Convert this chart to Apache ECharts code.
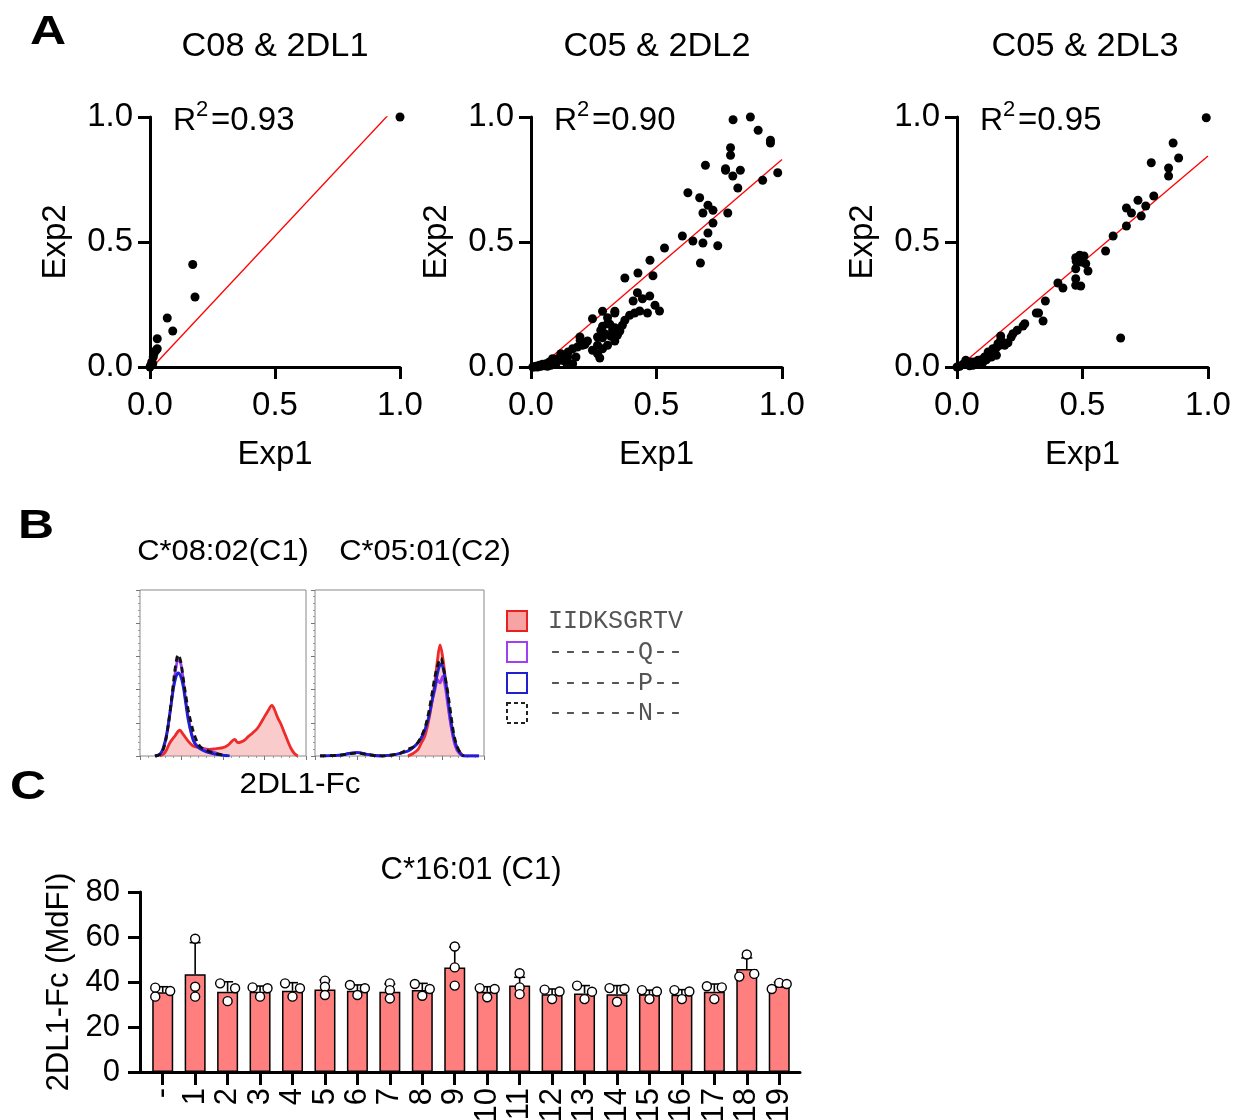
<!DOCTYPE html>
<html>
<head>
<meta charset="utf-8">
<script src="https://cdn.jsdelivr.net/npm/echarts@6/dist/echarts.min.js"></script>
<style>
  html, body { margin: 0; padding: 0; background: #fff; }
  #main { width: 1238px; height: 1120px; }
</style>
</head>
<body>
<div id="main"></div>
<script>
// ---- panel A : Exp1 vs Exp2 scatter ----
var a1Points = [[1.0, 1.0], [0.171, 0.41], [0.18, 0.28], [0.069, 0.196], [0.091, 0.144],
  [0.029, 0.113], [0.029, 0.073], [0.024, 0.067], [0.016, 0.053], [0.013, 0.04],
  [0.007, 0.02], [0.003, 0.007], [0.011, 0.013], [0.0, 0.0]];
var a1Fit = [[0.01, 0.0], [0.95, 1.005]];

var a2Points = [[0.805, 0.989], [0.874, 1.0], [1.003, 1.0], [0.905, 0.947], [0.954, 0.907],
  [0.954, 0.896], [0.795, 0.877], [0.795, 0.847], [0.695, 0.807], [0.775, 0.793],
  [0.775, 0.787], [0.834, 0.787], [0.804, 0.764], [0.983, 0.777], [0.923, 0.747],
  [0.824, 0.716], [0.625, 0.697], [0.672, 0.677], [0.705, 0.647], [0.725, 0.627],
  [0.685, 0.616], [0.784, 0.616], [0.725, 0.576], [0.705, 0.536], [0.603, 0.524],
  [0.645, 0.504], [0.685, 0.496], [0.744, 0.485], [0.675, 0.416], [0.532, 0.476],
  [0.474, 0.427], [0.486, 0.365], [0.426, 0.376], [0.374, 0.356], [0.424, 0.297],
  [0.444, 0.273], [0.407, 0.264], [0.473, 0.284], [0.494, 0.247], [0.512, 0.224],
  [0.464, 0.216], [0.433, 0.224], [0.413, 0.216], [0.393, 0.207], [0.374, 0.187],
  [0.334, 0.223], [0.334, 0.216], [0.305, 0.197], [0.285, 0.223], [0.245, 0.193],
  [0.305, 0.173], [0.285, 0.163], [0.364, 0.167], [0.334, 0.157], [0.354, 0.144],
  [0.344, 0.127], [0.318, 0.123], [0.334, 0.104], [0.294, 0.133], [0.285, 0.117],
  [0.265, 0.12], [0.305, 0.087], [0.285, 0.073], [0.265, 0.087], [0.265, 0.053],
  [0.274, 0.036], [0.245, 0.067], [0.225, 0.104], [0.205, 0.087], [0.195, 0.12],
  [0.185, 0.08], [0.166, 0.073], [0.148, 0.06], [0.146, 0.04], [0.166, 0.013],
  [0.132, 0.04], [0.119, 0.053], [0.106, 0.033], [0.086, 0.033], [0.073, 0.02],
  [0.06, 0.013], [0.046, 0.011], [0.033, 0.007], [0.02, 0.003], [0.007, 0.0],
  [0.122, 0.027], [0.099, 0.013], [0.079, 0.007], [0.139, 0.02], [0.056, 0.005],
  [0.04, 0.003], [0.026, 0.0], [0.013, 0.0], [0.066, 0.003], [0.179, 0.04],
  [0.196, 0.107], [0.278, 0.147], [0.325, 0.147], [0.314, 0.171], [0.215, 0.09]];
var a2Fit = [[0.04, 0.004], [1.0, 0.83]];

var a3Points = [[0.993, 0.997], [0.861, 0.896], [0.883, 0.836], [0.774, 0.817], [1.003, 0.796],
  [0.843, 0.796], [0.843, 0.764], [0.784, 0.684], [0.721, 0.667], [0.752, 0.644],
  [0.675, 0.636], [0.695, 0.616], [0.734, 0.604], [0.675, 0.564], [0.622, 0.524],
  [0.592, 0.464], [0.473, 0.437], [0.489, 0.447], [0.506, 0.444], [0.475, 0.423],
  [0.513, 0.413], [0.473, 0.393], [0.522, 0.384], [0.495, 0.42], [0.473, 0.353],
  [0.473, 0.327], [0.493, 0.324], [0.402, 0.336], [0.422, 0.316], [0.352, 0.264],
  [0.316, 0.216], [0.325, 0.216], [0.343, 0.184], [0.27, 0.173], [0.263, 0.164],
  [0.24, 0.147], [0.223, 0.133], [0.216, 0.12], [0.203, 0.097], [0.174, 0.124],
  [0.174, 0.107], [0.17, 0.087], [0.157, 0.077], [0.143, 0.073], [0.157, 0.047],
  [0.137, 0.04], [0.124, 0.06], [0.11, 0.04], [0.097, 0.029], [0.084, 0.027],
  [0.07, 0.02], [0.057, 0.02], [0.035, 0.027], [0.044, 0.013], [0.024, 0.011],
  [0.011, 0.003], [0.0, 0.0], [0.652, 0.116], [0.15, 0.06], [0.117, 0.029],
  [0.104, 0.02], [0.077, 0.011], [0.064, 0.007], [0.05, 0.005], [0.163, 0.093],
  [0.19, 0.087], [0.18, 0.1]];
var a3Fit = [[0.02, 0.011], [1.0, 0.844]];

var aTitles = ['C08 & 2DL1', 'C05 & 2DL2', 'C05 & 2DL3'];
var aR2 = ['=0.93', '=0.90', '=0.95'];

// ---- panel B : histograms (x: fluorescence, y: % of max) ----
var b1Red = [[12, 0], [15, 2], [18, 8], [21, 12], [24, 15.5], [26, 13], [29, 9], [32, 6], [36, 5],
  [42, 4], [46, 4.5], [50, 5], [53, 6.5], [55, 8.5], [57, 10], [59, 8], [61, 8.5], [63, 9.5],
  [65, 11.5], [68, 14], [71, 17], [74, 22], [77, 27], [79.5, 30.5], [81, 28], [83, 23],
  [85, 19], [87, 14], [89, 9], [91, 4.5], [93, 1.5], [95, 0]];
var b1Purple = [[9, 0], [12, 1], [14, 4], [16, 12], [18, 25], [20, 40], [21.5, 52], [23, 58],
  [24.5, 56], [26, 46], [27.5, 34], [29, 24], [31, 14], [33, 8], [36, 5], [40, 3.5], [44, 2.5],
  [48, 1], [52, 0]];
var b1Blue = [[9, 0], [12, 1], [14, 5], [16, 13], [18, 26], [20, 40], [21.5, 47], [23, 50],
  [24.5, 48], [26, 42], [27.5, 32], [29, 22], [31, 13], [33, 7.5], [36, 4.5], [40, 2.5],
  [45, 1.2], [50, 0.5], [54, 0]];
var b1Black = [[9, 0], [12, 1], [14, 4], [16, 12], [18, 26], [20, 43], [21.5, 55], [23, 61],
  [24.5, 57], [26, 47], [27.5, 37], [29, 28], [31, 19], [33, 12], [36, 6], [40, 3.5], [44, 2],
  [48, 1], [52, 0]];

var b2Red = [[55, 0], [58, 1.5], [61, 4], [63, 8], [65, 12], [67, 20], [69, 31], [71, 45],
  [72.5, 58], [74, 67], [75.5, 60], [77, 48], [78.5, 34], [80, 22], [82, 11], [84, 5],
  [86, 2], [88, 0]];
var b2Purple = [[3, 0], [15, 0.5], [20, 1.5], [25, 2.2], [30, 1.2], [35, 0.3], [40, 0], [45, 0.5],
  [50, 1.5], [55, 3], [58, 5], [61, 8], [64, 13], [67, 22], [69, 32], [71, 40], [72.5, 46],
  [74, 44], [75.5, 48], [77, 42], [79, 28], [81, 15], [83, 6], [85, 2], [88, 0], [97, 0]];
var b2Blue = [[3, 0], [15, 0.5], [20, 1.5], [25, 2], [30, 1.2], [35, 0.3], [40, 0], [45, 0.5],
  [50, 1.5], [55, 3], [58, 5], [61, 8], [64, 13], [67, 22], [69, 32], [71, 42], [73, 52],
  [74.5, 55.5], [76, 52], [78, 40], [80, 24], [82, 12], [84, 5], [86, 1.5], [88, 0], [97, 0]];
var b2Black = [[3, 0], [15, 0.5], [20, 1.3], [25, 1.8], [30, 1], [35, 0.3], [40, 0], [45, 0.5],
  [50, 1.5], [53, 3], [56, 4.5], [59, 6], [62, 10], [65, 17], [67, 25], [69, 36], [71, 48],
  [73, 56], [74.5, 59], [76, 53], [78, 42], [80, 28], [82, 14], [84, 6], [86, 2], [88, 0]];

var bTitles = ['C*08:02(C1)', 'C*05:01(C2)'];
var bLegend = ['IIDKSGRTV', '------Q--', '------P--', '------N--'];

// ---- panel C : bars ----
var cCats = ['-', '1', '2', '3', '4', '5', '6', '7', '8', '9', '10', '11', '12', '13', '14', '15', '16', '17', '18', '19'];
var cMean = [35.4, 43.4, 35.7, 35.7, 36.1, 36.7, 36.1, 35.7, 36.4, 46.5, 35.7, 38.4, 34.6, 34.9, 34.6, 34.6, 34.3, 35.7, 45.8, 38.1];
var cSdTop = [37.9, 57.5, 40.1, 38.2, 39.7, 40.9, 38.7, 39.1, 39.4, 55.5, 37.9, 42.1, 36.9, 38.4, 38.4, 36.4, 36.6, 39.1, 50.7, 39.9];
var cReps = [[37.5, 33.5, 36], [59.2, 37.9, 33.5], [39.4, 31.5, 37.2], [37.6, 33.5, 37.2], [39.4, 33.5, 37.2],
  [40.6, 37.9, 34.2], [38.7, 34.2, 37.2], [39.4, 36.4, 32.7], [39.1, 33.9, 36.9], [55.8, 46.5, 38.4],
  [37.3, 33.2, 36.9], [43.9, 37.6, 34.6], [36.6, 32.4, 35.8], [38.4, 32.4, 35.7], [37.3, 31.2, 36.9],
  [36.4, 32.4, 35.8], [36.4, 32.4, 35.8], [38.1, 32.4, 37.6], [42.4, 52.2, 43.6], [36.9, 39.6, 39.1]];
// dot placement inside each bar: -1 left, 0 middle, 1 right
var cJitter = [[-1, -1, 1], [0, 0, 0], [-1, 0, 1], [-1, 0, 1], [-1, 0, 1], [0, 0, 0], [-1, 0, 1], [0, 0, 0],
  [-1, 0, 1], [0, 0, 0], [-1, 0, 1], [0, 0, 0], [-1, 0, 1], [-1, 0, 1], [-1, 0, 1], [-1, 0, 1],
  [-1, 0, 1], [-1, 0, 1], [-1, 0, 1], [-1, 0, 1]];

var FF = '"Liberation Sans", Arial, sans-serif';
var chart = echarts.init(document.getElementById('main'), null, { renderer: 'canvas' });

function aXAxis(gi) {
  return {
    type: 'value', gridIndex: gi, min: 0, max: 1, interval: 0.5,
    axisLine: { lineStyle: { color: '#000', width: 3 } },
    axisTick: { length: 12, lineStyle: { color: '#000', width: 3 } },
    axisLabel: { color: '#000', fontSize: 33, fontFamily: FF, margin: 22, formatter: function (v) { return v.toFixed(1); } },
    splitLine: { show: false },
    name: 'Exp1', nameLocation: 'middle', nameGap: 71,
    nameTextStyle: { color: '#000', fontSize: 33, fontFamily: FF }
  };
}
function aYAxis(gi) {
  return {
    type: 'value', gridIndex: gi, min: 0, max: 1, interval: 0.5,
    axisLine: { lineStyle: { color: '#000', width: 3 } },
    axisTick: { length: 12, lineStyle: { color: '#000', width: 3 } },
    axisLabel: { color: '#000', fontSize: 33, fontFamily: FF, margin: 17, formatter: function (v) { return v.toFixed(1); } },
    splitLine: { show: false },
    name: 'Exp2', nameLocation: 'middle', nameGap: 78,
    nameTextStyle: { color: '#000', fontSize: 33, fontFamily: FF }
  };
}
function bXAxis(gi) {
  return {
    type: 'value', gridIndex: gi, min: 0, max: 100, interval: 25,
    axisLine: { show: false },
    axisTick: { length: 4, lineStyle: { color: '#777', width: 1 } },
    minorTick: { show: true, splitNumber: 5, length: 2, lineStyle: { color: '#999' } },
    axisLabel: { show: false }, splitLine: { show: false }
  };
}
function bYAxis(gi) {
  return {
    type: 'value', gridIndex: gi, min: 0, max: 100, interval: 20,
    axisLine: { show: false },
    axisTick: { length: 4, lineStyle: { color: '#777', width: 1 } },
    minorTick: { show: true, splitNumber: 5, length: 2, lineStyle: { color: '#999' } },
    axisLabel: { show: false }, splitLine: { show: false }
  };
}
function scatterA(gi, pts) {
  return { type: 'scatter', xAxisIndex: gi, yAxisIndex: gi, data: pts, symbolSize: 9,
    itemStyle: { color: '#000', opacity: 1 }, z: 3 };
}
function fitA(gi, pts) {
  return { type: 'line', xAxisIndex: gi, yAxisIndex: gi, data: pts, showSymbol: false,
    lineStyle: { color: '#ff0000', width: 1.3 }, z: 2 };
}
function histLine(gi, pts, color, dashed, area) {
  var s = { type: 'line', xAxisIndex: gi, yAxisIndex: gi, data: pts, showSymbol: false, smooth: 0.35,
    lineStyle: { color: color, width: 2.8, type: dashed ? [6, 4] : 'solid' } };
  if (area) s.areaStyle = { color: 'rgba(242,120,120,0.55)', origin: 'start' };
  return s;
}

var barData = cMean.map(function (v, i) { return [i, v]; });
var errData = cMean.map(function (v, i) { return [i, v, cSdTop[i]]; });
var dotData = [];
cReps.forEach(function (reps, i) {
  reps.forEach(function (v, k) { dotData.push([i + cJitter[i][k] * 0.23, v]); });
});

var graphics = [];
function txt(x, y, text, font, align, color, sx) {
  graphics.push({ type: 'text', x: x, y: y, scaleX: sx || 1, silent: true,
    style: { text: text, font: font, fill: color || '#000', textAlign: align || 'center', textVerticalAlign: 'middle' } });
}
txt(48, 33, 'A', 'bold 40px ' + FF, 'center', '#000', 1.25);
txt(36, 527, 'B', 'bold 40px ' + FF, 'center', '#000', 1.25);
txt(28, 788, 'C', 'bold 40px ' + FF, 'center', '#000', 1.25);
var aAxisX = [150, 531, 957];
var aCenters = [275, 657, 1085];
aTitles.forEach(function (t, i) {
  txt(aCenters[i], 47, t, '33px ' + FF, 'center', '#000', 1.04);
  txt(aAxisX[i] + 23, 121, 'R', '32px ' + FF, 'left');
  txt(aAxisX[i] + 46, 110, '2', '22px ' + FF, 'left');
  txt(aAxisX[i] + 61, 121, aR2[i], '33px ' + FF, 'left');
});
txt(223, 552, bTitles[0], '30px ' + FF, 'center', '#000', 1.03);
txt(425, 552, bTitles[1], '30px ' + FF, 'center', '#000', 1.03);
txt(300, 785, '2DL1-Fc', '30px ' + FF, 'center', '#000', 1.05);
txt(471, 870, 'C*16:01 (C1)', '31px ' + FF);

var legFill = ['#f7a3a3', '#fff', '#fff', '#fff'];
var legStroke = ['#e82020', '#a040f0', '#2020d0', '#222'];
var legY = [621, 652, 683, 713];
bLegend.forEach(function (t, i) {
  graphics.push({ type: 'rect', silent: true, shape: { x: 507, y: legY[i] - 10, width: 20, height: 20 },
    style: { fill: legFill[i], stroke: legStroke[i], lineWidth: 2, lineDash: i === 3 ? [4, 3] : null } });
  txt(548, legY[i], t, '25px "Liberation Mono", "DejaVu Sans Mono", monospace', 'left', '#555');
});

var option = {
  animation: false,
  backgroundColor: '#fff',
  textStyle: { fontFamily: FF },
  grid: [
    { left: 150, top: 117, width: 250, height: 250, outerBoundsMode: 'none' },
    { left: 531, top: 117, width: 251, height: 250, outerBoundsMode: 'none' },
    { left: 957, top: 117, width: 251, height: 250, outerBoundsMode: 'none' },
    { left: 140, top: 590, width: 166, height: 166, show: true, borderColor: '#888', borderWidth: 1, outerBoundsMode: 'none' },
    { left: 315, top: 590, width: 169, height: 166, show: true, borderColor: '#888', borderWidth: 1, outerBoundsMode: 'none' },
    { left: 140, top: 892, width: 660, height: 180, outerBoundsMode: 'none' }
  ],
  xAxis: [aXAxis(0), aXAxis(1), aXAxis(2), bXAxis(3), bXAxis(4), {
    type: 'value', gridIndex: 5, min: -0.7, max: 19.64,
    axisLine: { onZero: false, lineStyle: { color: '#000', width: 3 } },
    axisTick: { length: 13, lineStyle: { color: '#000', width: 3 }, customValues: cCats.map(function (c, i) { return i; }) },
    axisLabel: { color: '#000', fontSize: 31, fontFamily: FF, rotate: 90, margin: 16,
      customValues: cCats.map(function (c, i) { return i; }),
      formatter: function (v) { return cCats[Math.round(v)]; } },
    splitLine: { show: false }
  }],
  yAxis: [aYAxis(0), aYAxis(1), aYAxis(2), bYAxis(3), bYAxis(4), {
    type: 'value', gridIndex: 5, min: 0, max: 80, interval: 20,
    axisLine: { show: true, onZero: false, lineStyle: { color: '#000', width: 3 } },
    axisTick: { show: true, length: 12, lineStyle: { color: '#000', width: 3 } },
    axisLabel: { color: '#000', fontSize: 31, fontFamily: FF, margin: 20 },
    splitLine: { show: false },
    name: '2DL1-Fc (MdFI)', nameLocation: 'middle', nameGap: 62,
    nameTextStyle: { color: '#000', fontSize: 31, fontFamily: FF }
  }],
  series: [
    fitA(0, a1Fit), scatterA(0, a1Points),
    fitA(1, a2Fit), scatterA(1, a2Points),
    fitA(2, a3Fit), scatterA(2, a3Points),
    histLine(3, b1Red, '#ee2a2a', false, true),
    histLine(3, b1Purple, '#9a3cf0', false, false),
    histLine(3, b1Blue, '#1f1fd6', false, false),
    histLine(3, b1Black, '#111', true, false),
    histLine(4, b2Red, '#ee2a2a', false, true),
    histLine(4, b2Purple, '#9a3cf0', false, false),
    histLine(4, b2Blue, '#1f1fd6', false, false),
    histLine(4, b2Black, '#111', true, false),
    { type: 'bar', xAxisIndex: 5, yAxisIndex: 5, data: barData, barWidth: 21,
      itemStyle: { color: '#ff7f7f', borderColor: '#000', borderWidth: 1.5 } },
    { type: 'custom', xAxisIndex: 5, yAxisIndex: 5, data: errData, encode: { x: 0, y: [1, 2] }, z: 3,
      renderItem: function (params, api) {
        var p0 = api.coord([api.value(0), api.value(1)]);
        var p1 = api.coord([api.value(0), api.value(2)]);
        return { type: 'group', children: [
          { type: 'line', shape: { x1: p0[0], y1: p0[1], x2: p1[0], y2: p1[1] }, style: { stroke: '#000', lineWidth: 1.6 } },
          { type: 'line', shape: { x1: p1[0] - 5.5, y1: p1[1], x2: p1[0] + 5.5, y2: p1[1] }, style: { stroke: '#000', lineWidth: 1.6 } }
        ] };
      } },
    { type: 'scatter', xAxisIndex: 5, yAxisIndex: 5, data: dotData, symbolSize: 9, z: 4,
      itemStyle: { color: '#fff', borderColor: '#000', borderWidth: 1.4, opacity: 1 } }
  ],
  graphic: graphics
};
chart.setOption(option);
</script>
</body>
</html>
